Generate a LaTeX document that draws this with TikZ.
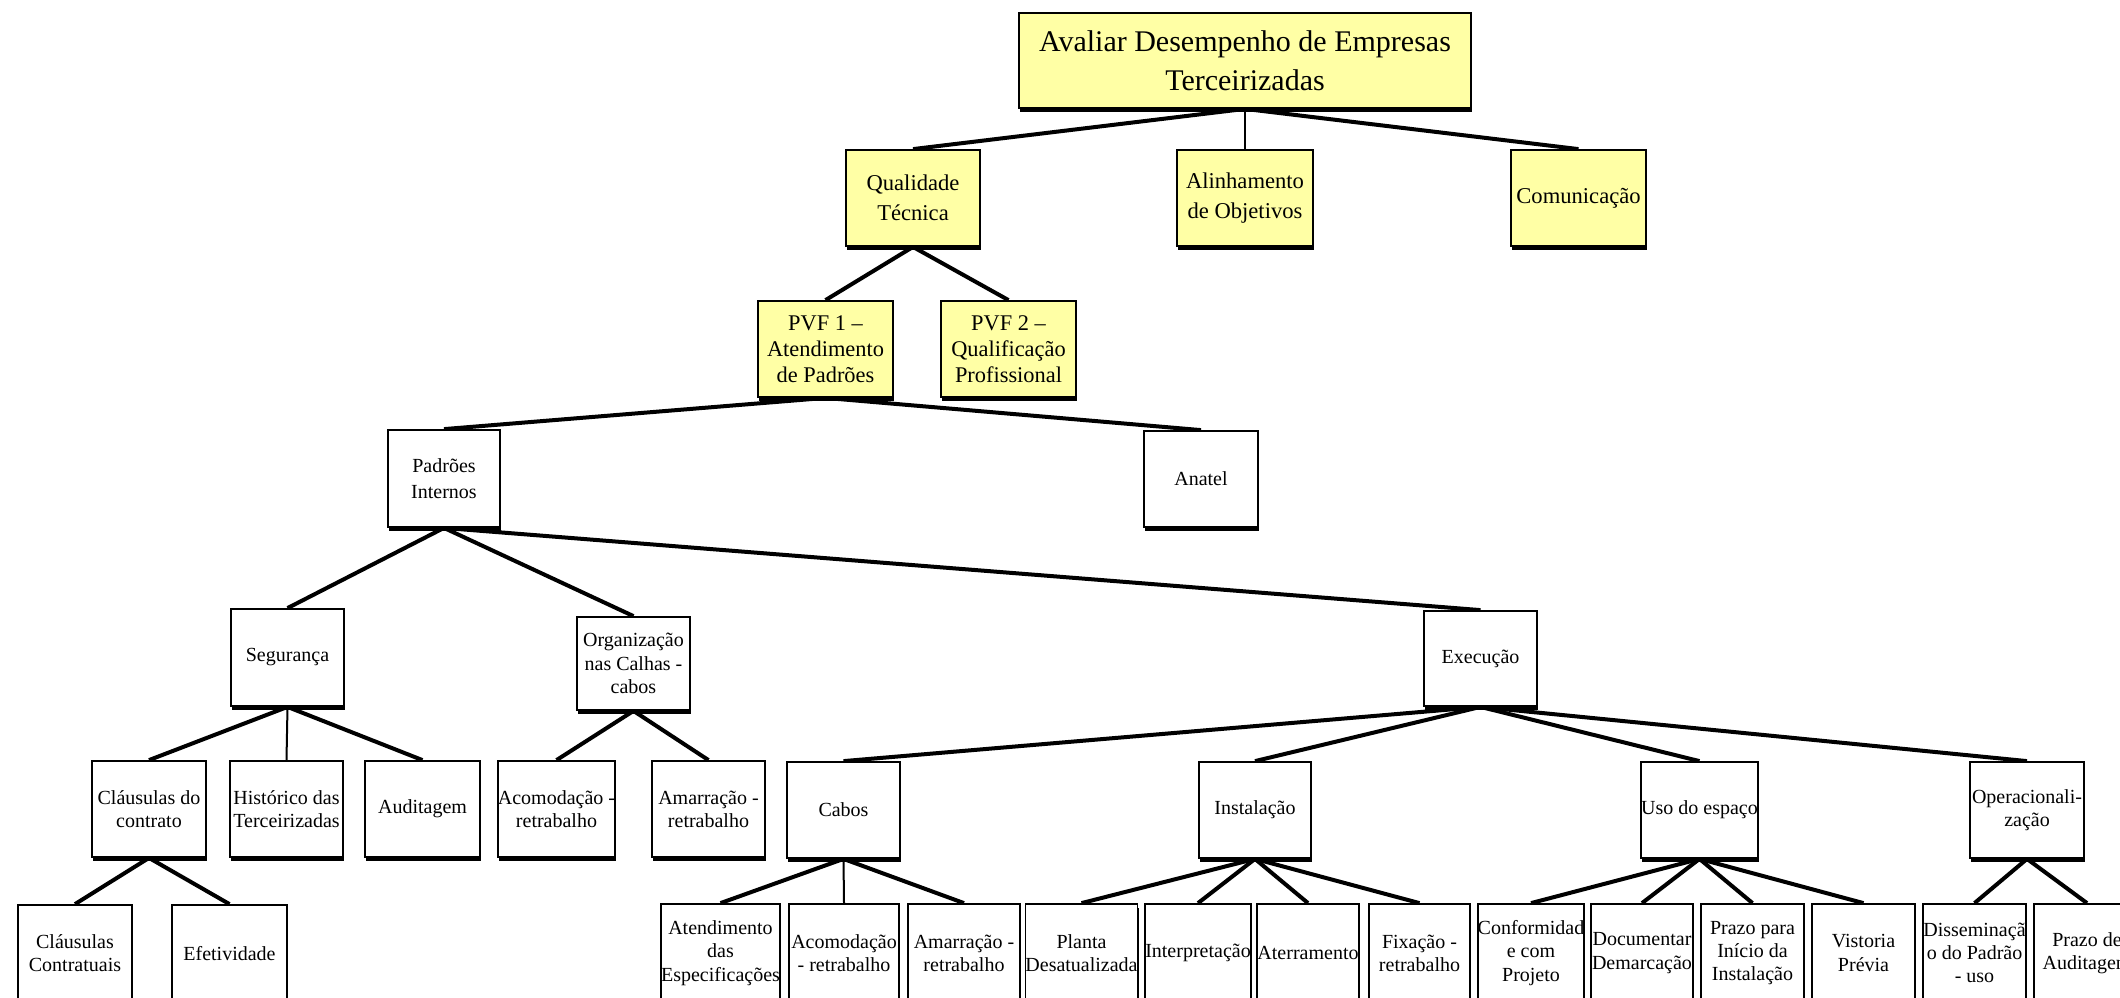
\documentclass[tikz,border=0pt]{standalone}
\usepackage{fontspec}
\setmainfont{Liberation Serif}
\usetikzlibrary{shadows,backgrounds}
\definecolor{boxyellow}{RGB}{255,255,165}
\tikzset{
  box/.style={draw=black, line width=0.9pt, fill=white, inner sep=0pt, align=center,
    general shadow={fill=black, shadow xshift=0.5pt, shadow yshift=-2pt},
    font=\fontsize{10}{11.6}\selectfont},
  ybox/.style={box, fill=boxyellow},
  lvlroot/.style={font=\fontsize{15}{19.5}\selectfont},
  lvltwo/.style={font=\fontsize{11.3}{15}\selectfont},
  lvlthree/.style={font=\fontsize{11.2}{13}\selectfont},
  lvlfour/.style={font=\fontsize{10}{12.8}\selectfont},
  conn/.style={line width=2pt},
  vconn/.style={line width=1pt}
}
\newcommand\mybox[7][]{%
  \pgfmathsetmacro\mycx{(#3+#4)/2}%
  \pgfmathsetmacro\mycy{(#5+#6)/2}%
  \pgfmathsetmacro\mybw{(#4-#3)*0.5}%
  \pgfmathsetmacro\mybh{(#6-#5)*0.5}%
  \node[box,#1,minimum width=\mybw pt,minimum height=\mybh pt] (#2) at (\mycx,\mycy) {#7};}
\begin{document}
\begin{tikzpicture}[x=0.5pt,y=-0.5pt]
\useasboundingbox (0,0) rectangle (2120,997);
% level 1-3 (yellow)
\mybox[ybox,lvlroot]{root}{1019}{1471}{13}{108}{Avaliar Desempenho de Empresas\\Terceirizadas}
\mybox[ybox,lvltwo]{qual}{846}{980}{150}{246}{Qualidade\\Técnica}
\mybox[ybox,lvltwo]{alin}{1177}{1313}{150}{246}{Alinhamento\\de Objetivos}
\mybox[ybox,lvltwo]{comu}{1511}{1646}{150}{246}{Comunicação}
\mybox[ybox,lvlthree]{pvfa}{758}{893}{301}{397}{PVF 1 –\\Atendimento\\de Padrões}
\mybox[ybox,lvlthree]{pvfb}{941}{1076}{301}{397}{PVF 2 –\\Qualificação\\Profissional}
% level 4
\mybox[lvlfour]{padr}{388}{500}{430}{527}{Padrões\\Internos}
\mybox[lvlfour]{anat}{1144}{1258}{431}{527}{Anatel}
% level 5a
\mybox{seg}{231}{344}{609}{706}{Segurança}
\mybox{org}{577}{690}{617}{710}{Organização\\nas Calhas -\\cabos}
\mybox{exe}{1424}{1537}{611}{706}{Execução}
% level 5
\mybox{cdc}{92}{206}{761}{857}{Cláusulas do\\contrato}
\mybox{hist}{230}{343}{761}{857}{Histórico das\\Terceirizadas}
\mybox{audi}{365}{480}{761}{857}{Auditagem}
\mybox{acomA}{500}{613}{761}{857}{Acomodação -\\retrabalho}
\mybox{amarA}{652}{765}{761}{857}{Amarração -\\retrabalho}
\mybox{cabo}{787}{900}{762}{858}{Cabos}
\mybox{inst}{1199}{1311}{762}{858}{Instalação}
\mybox{uso}{1643}{1756}{762}{858}{Uso do espaço}
\mybox{oper}{1970}{2084}{762}{858}{Operacionali-\\zação}
% level 6
\mybox{cc}{18}{132}{905}{1002}{Cláusulas\\Contratuais}
\mybox{efe}{172}{287}{905}{1002}{Efetividade}
\mybox{aten}{661}{780}{904}{1002}{Atendimento\\das\\Especificações}
\mybox{acomB}{789}{899}{904}{1002}{Acomodação\\- retrabalho}
\mybox{amarB}{908}{1020}{904}{1002}{Amarração -\\retrabalho}
\mybox{plan}{1026}{1137}{904}{1002}{Planta\\Desatualizada}
\mybox{inte}{1147}{1249}{904}{1002}{Interpretação}
\mybox{ater}{1257}{1359}{904}{1002}{Aterramento}
\mybox{fixa}{1369}{1470}{904}{1002}{Fixação -\\retrabalho}
\mybox{conf}{1480}{1582}{904}{1002}{Conformidad\\e com\\Projeto}
\mybox{docu}{1591}{1693}{904}{1002}{Documentar\\Demarcação}
\mybox{prazA}{1701}{1804}{904}{1002}{Prazo para\\Início da\\Instalação}
\mybox{vist}{1812}{1915}{904}{1002}{Vistoria\\Prévia}
\mybox{diss}{1923}{2026}{904}{1002}{Disseminaçã\\o do Padrão\\- uso}
\mybox{prazB}{2034}{2140}{904}{1002}{Prazo de\\Auditagem}
\begin{scope}[on background layer]
\fill[white] (0,0) rectangle (2120,997);
\draw[conn] (root.south) -- (qual.north);
\draw[vconn] (root.south) -- (alin.north);
\draw[conn] (root.south) -- (comu.north);
\draw[conn] (qual.south) -- (pvfa.north);
\draw[conn] (qual.south) -- (pvfb.north);
\draw[conn] (pvfa.south) -- (padr.north);
\draw[conn] (pvfa.south) -- (anat.north);
\draw[conn] (padr.south) -- (seg.north);
\draw[conn] (padr.south) -- (org.north);
\draw[conn] (padr.south) -- (exe.north);
\draw[conn] (seg.south) -- (cdc.north);
\draw[vconn] (seg.south) -- (hist.north);
\draw[conn] (seg.south) -- (audi.north);
\draw[conn] (org.south) -- (acomA.north);
\draw[conn] (org.south) -- (amarA.north);
\draw[conn] (exe.south) -- (cabo.north);
\draw[conn] (exe.south) -- (inst.north);
\draw[conn] (exe.south) -- (uso.north);
\draw[conn] (exe.south) -- (oper.north);
\draw[conn] (cdc.south) -- (cc.north);
\draw[conn] (cdc.south) -- (efe.north);
\draw[conn] (cabo.south) -- (aten.north);
\draw[vconn] (cabo.south) -- (acomB.north);
\draw[conn] (cabo.south) -- (amarB.north);
\draw[conn] (inst.south) -- (plan.north);
\draw[conn] (inst.south) -- (inte.north);
\draw[conn] (inst.south) -- (ater.north);
\draw[conn] (inst.south) -- (fixa.north);
\draw[conn] (uso.south) -- (conf.north);
\draw[conn] (uso.south) -- (docu.north);
\draw[conn] (uso.south) -- (prazA.north);
\draw[conn] (uso.south) -- (vist.north);
\draw[conn] (oper.south) -- (diss.north);
\draw[conn] (oper.south) -- (prazB.north);
\end{scope}
\end{tikzpicture}
\end{document}
